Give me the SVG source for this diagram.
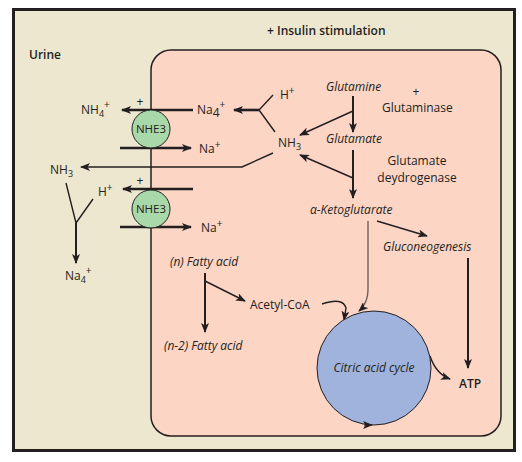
<svg xmlns="http://www.w3.org/2000/svg" width="522" height="462" viewBox="0 0 522 462">
<style>
text{font-family:"Open Sans","Liberation Sans",sans-serif;font-size:12px;fill:#231f20}
.b{font-weight:600}
.i{font-style:italic}
.ln{fill:none;stroke:#231f20;stroke-width:1.4}
.th{fill:none;stroke:#231f20;stroke-width:2.6}
.gr{fill:none;stroke:#6b6260;stroke-width:1.4}
.sub{font-size:9px}
.sup{font-size:10px}
</style>
<defs>
<marker id="ah" viewBox="0 0 10 8" refX="9" refY="4" markerWidth="10" markerHeight="8" markerUnits="userSpaceOnUse" orient="auto">
<path d="M0,0 L10,4 L0,8 L2.5,4 z" fill="#231f20"/>
</marker>
</defs>
<rect x="0" y="0" width="522" height="462" fill="#fff"/>
<rect id="frame" x="13.5" y="9.5" width="501" height="441" fill="#eee7d0" stroke="#231f20" stroke-width="3"/>
<g id="cell"><rect x="151" y="50" width="350" height="386" rx="20" fill="#fcd5c5" stroke="#231f20" stroke-width="1.5"/></g>
<text x="267" y="35" class="b">+ Insulin stimulation</text>
<text x="29" y="59" class="b">Urine</text>

<g id="connectors">
<path class="th" d="M193,110 H122" marker-end="url(#ah)"/>
<path class="th" d="M120,148 H191" marker-end="url(#ah)"/>
<path class="th" d="M193,189 H123" marker-end="url(#ah)"/>
<path class="th" d="M120,227 H191" marker-end="url(#ah)"/>
<path class="ln" d="M273,153 L242,167 H81" marker-end="url(#ah)"/>
<path class="ln" d="M273,95 L259,110 L275,132"/>
<path class="th" d="M259,110 H234" marker-end="url(#ah)"/>
<path class="ln" d="M353,96 V132" marker-end="url(#ah)" style="stroke-width:2"/>
<path class="ln" d="M353,111 L300,135" marker-end="url(#ah)"/>
<path class="ln" d="M353,150 V198" marker-end="url(#ah)" style="stroke-width:2"/>
<path class="ln" d="M353,178 L300,155" marker-end="url(#ah)"/>
<path class="ln" d="M377,221 L427,236" marker-end="url(#ah)"/>
<path class="gr" d="M368,221 V290 Q368,303 359,311" marker-end="url(#ah)"/>
<path class="ln" d="M468,258 V368" marker-end="url(#ah)" style="stroke-width:2"/>
<path class="ln" d="M205,273 V332" marker-end="url(#ah)" style="stroke-width:2"/>
<path class="ln" d="M205,281 L245,301" marker-end="url(#ah)"/>
<path class="ln" d="M322,304 Q343,297 346,308 L344,320" marker-end="url(#ah)"/>
<path class="ln" d="M430,356 Q436,374 450,379" marker-end="url(#ah)"/>
<path class="ln" d="M66,183 L76,223 L93,199"/>
<path class="ln" d="M76,223 V263" marker-end="url(#ah)" style="stroke-width:2"/>
</g>

<g id="nhe3-top"><circle cx="151" cy="129" r="19" fill="#a9d8aa" stroke="#231f20" stroke-width="1"/><text x="151" y="133" text-anchor="middle" style="font-size:11.5px">NHE3</text></g>
<g id="nhe3-bottom"><circle cx="151" cy="209" r="19" fill="#a9d8aa" stroke="#231f20" stroke-width="1"/><text x="151" y="213" text-anchor="middle" style="font-size:11.5px">NHE3</text></g>
<g id="cycle"><circle cx="374" cy="368" r="57" fill="#a0b3dc" stroke="#231f20" stroke-width="1"/><text x="374" y="372" text-anchor="middle" class="i">Citric acid cycle</text>
<path d="M364,425 L372,425" stroke="#231f20" marker-end="url(#ah)"/></g>

<g id="plus1"><text x="140" y="106" text-anchor="middle">+</text></g>
<g id="plus2"><text x="140" y="185" text-anchor="middle">+</text></g>
<g id="nh4-out"><text x="81" y="114">NH<tspan class="sub" dy="3">4</tspan><tspan class="sup" dy="-9">+</tspan></text></g>
<g id="na4-in"><text x="197" y="114">Na<tspan dy="3">4</tspan><tspan class="sup" dy="-9">+</tspan></text></g>
<g id="na-1"><text x="199" y="153">Na<tspan class="sup" dy="-5">+</tspan></text></g>
<g id="na-2"><text x="201" y="232">Na<tspan class="sup" dy="-5">+</tspan></text></g>
<g id="h-out"><text x="98" y="196">H<tspan class="sup" dy="-5">+</tspan></text></g>
<g id="nh3-out"><text x="50" y="174">NH<tspan class="sub" dy="3">3</tspan></text></g>
<g id="na4-out"><text x="65" y="280">Na<tspan class="sub" dy="3">4</tspan><tspan class="sup" dy="-9">+</tspan></text></g>
<g id="h-in"><text x="280" y="99">H<tspan class="sup" dy="-5">+</tspan></text></g>
<g id="nh3-in"><text x="278" y="147">NH<tspan class="sub" dy="3">3</tspan></text></g>
<g id="glutamine"><text x="326" y="91" class="i">Glutamine</text></g>
<g id="glutaminase"><text x="416" y="96" text-anchor="middle">+</text><text x="382" y="112">Glutaminase</text></g>
<g id="glutamate"><text x="326" y="143" class="i">Glutamate</text></g>
<g id="gdh"><text x="417" y="165" text-anchor="middle">Glutamate</text><text x="417" y="182" text-anchor="middle">deydrogenase</text></g>
<g id="akg"><text x="310" y="214" class="i">α-Ketoglutarate</text></g>
<g id="gluconeo"><text x="383" y="251" class="i">Gluconeogenesis</text></g>
<g id="atp"><text x="459" y="388" class="b">ATP</text></g>
<g id="fa-n"><text x="170" y="266" class="i">(n) Fatty acid</text></g>
<g id="fa-n2"><text x="164" y="350" class="i">(n-2) Fatty acid</text></g>
<g id="acetyl"><text x="250" y="309">Acetyl-CoA</text></g>
</svg>
